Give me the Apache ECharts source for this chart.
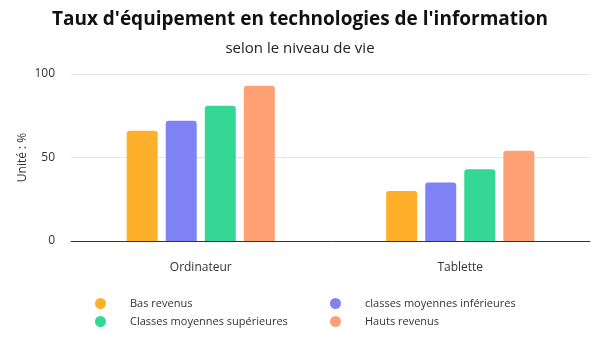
<!DOCTYPE html>
<html>
<head>
<meta charset="utf-8">
<script src="https://cdn.jsdelivr.net/npm/echarts@6/dist/echarts.min.js"></script>
<style>
  html, body { margin: 0; padding: 0; background: #fff; }
  #chart { width: 600px; height: 350px; }
</style>
</head>
<body>
<div id="chart"></div>
<script>
// Equipment rates (%) by income group
const categories = ['Ordinateur', 'Tablette'];
const seriesNames = ['Bas revenus', 'classes moyennes inférieures', 'Classes moyennes supérieures', 'Hauts revenus'];
const basRevenus = [66, 30];
const moyennesInf = [72, 35];
const moyennesSup = [81, 43];
const hautsRevenus = [93, 54];
const colors = ['#FFB02A', '#7F82F5', '#35D794', '#FFA075'];
const yTicks = { min: 0, max: 100, interval: 50 };

const values = [basRevenus, moyennesInf, moyennesSup, hautsRevenus];
const font = '"Open Sans", "Noto Sans", sans-serif';

const chart = echarts.init(document.getElementById('chart'), null, { renderer: 'canvas' });

const legendBase = {
  orient: 'vertical', top: 293,
  icon: 'circle', itemWidth: 11, itemHeight: 11, itemGap: 7,
  textStyle: { fontFamily: font, fontSize: 11, color: '#333', padding: [0, 0, 0, 19] }
};

chart.setOption({
  animation: false,
  color: colors,
  textStyle: { fontFamily: font },
  title: [
    {
      text: "Taux d'équipement en technologies de l'information",
      left: 'center', top: 5,
      textStyle: { fontFamily: font, fontSize: 19, fontWeight: 'bold', color: '#111' }
    },
    {
      text: 'selon le niveau de vie',
      left: 'center', top: 36,
      textStyle: { fontFamily: font, fontSize: 15, fontWeight: 'normal', color: '#222' }
    }
  ],
  legend: [
    Object.assign({ data: [seriesNames[0], seriesNames[2]], left: 90 }, legendBase),
    Object.assign({ data: [seriesNames[1], seriesNames[3]], left: 325 }, legendBase)
  ],
  grid: { left: 71, right: 10, top: 74, bottom: 109, containLabel: false },
  xAxis: {
    type: 'category',
    data: categories,
    axisTick: { show: false },
    axisLine: { lineStyle: { color: '#333', width: 1 } },
    axisLabel: { fontFamily: font, fontSize: 12, color: '#333', margin: 21 }
  },
  yAxis: {
    type: 'value',
    min: yTicks.min, max: yTicks.max, interval: yTicks.interval,
    name: 'Unité : %',
    nameLocation: 'middle',
    nameGap: 42,
    nameMoveOverlap: false,
    nameTextStyle: { fontFamily: font, fontSize: 12, color: '#333' },
    axisLabel: { fontFamily: font, fontSize: 12, color: '#333', margin: 16 },
    splitLine: { lineStyle: { color: '#e6e6e6' } },
    axisLine: { show: false },
    axisTick: { show: false }
  },
  series: seriesNames.map((name, i) => ({
    name,
    type: 'bar',
    data: values[i],
    barWidth: 31,
    barGap: '26%',
    itemStyle: { color: colors[i], borderRadius: [3, 3, 0, 0] }
  }))
});
</script>
</body>
</html>
